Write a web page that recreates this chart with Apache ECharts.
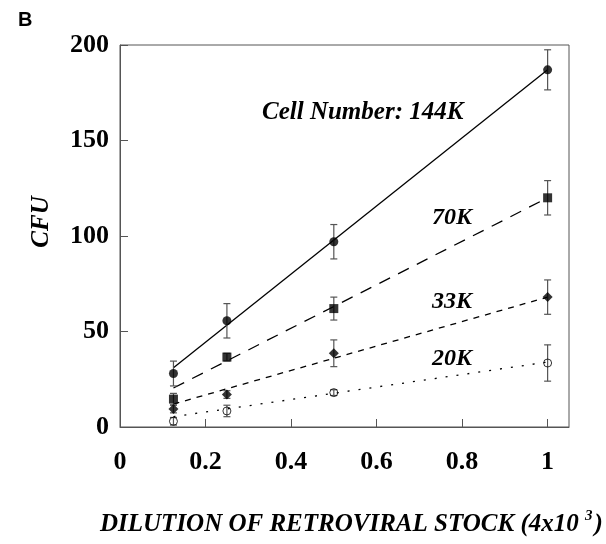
<!DOCTYPE html>
<html><head><meta charset="utf-8">
<script src="https://cdn.jsdelivr.net/npm/echarts@6/dist/echarts.min.js"></script>
<style>html,body{margin:0;padding:0;background:#fff}#c{width:606px;height:544px}</style>
</head><body><div id="c"></div>
<script>
var dilutions = [0.125, 0.25, 0.5, 1];
var cfu144K = [28, 55.6, 97, 187];
var err144K = [6.5, 9, 9, 10.5];
var cfu70K = [14.6, 36.6, 62, 120];
var err70K = [3, 2, 6, 9];
var cfu33K = [9.4, 17, 38.6, 68];
var err33K = [2, 2, 7, 9];
var cfu20K = [3, 8.4, 18, 33.5];
var err20K = [2, 3, 1.5, 9.5];
var fitX = [0.125, 1];
var fit144K = [31, 187];
var fit70K = [20.4, 120];
var fit33K = [12, 68];
var fit20K = [5.4, 34];
var xTicks = [0, 0.2, 0.4, 0.6, 0.8, 1];
var yTicks = [0, 50, 100, 150, 200];
var seriesNames = ['Cell Number: 144K', '70K', '33K', '20K'];

var serif = '"Liberation Serif", "DejaVu Serif", serif';
function pts(xs, ys){ return xs.map(function(x,i){return [x, ys[i]];}); }
function errData(ys, es){ return dilutions.map(function(x,i){return [x, ys[i]-es[i], ys[i]+es[i]];}); }
function errSeries(ys, es){
  return {type:'custom', z:5, data: errData(ys, es), silent:true,
    renderItem: function(params, api){
      var p1 = api.coord([api.value(0), api.value(1)]);
      var p2 = api.coord([api.value(0), api.value(2)]);
      var w = 3.5;
      var st = {stroke:'#555', lineWidth:1.2};
      return {type:'group', children:[
        {type:'line', shape:{x1:p1[0],y1:p1[1],x2:p2[0],y2:p2[1]}, style:st},
        {type:'line', shape:{x1:p1[0]-w,y1:p1[1],x2:p1[0]+w,y2:p1[1]}, style:st},
        {type:'line', shape:{x1:p2[0]-w,y1:p2[1],x2:p2[0]+w,y2:p2[1]}, style:st}
      ]};
    }};
}
function fitSeries(ys, type){
  return {type:'line', data: pts(fitX, ys), symbol:'none', z:3, silent:true,
    lineStyle:{color:'#000', width:1.3, type:type}};
}
function markSeries(ys, sym, size, filled){
  return {type:'scatter', data: pts(dilutions, ys), symbol:sym, symbolSize:size, z:6,
    itemStyle: filled ? {color:'#000'} : {color:'rgba(0,0,0,0)', borderColor:'#000', borderWidth:1}};
}

var chart = echarts.init(document.getElementById('c'), null, {renderer:'canvas'});
chart.setOption({
  animation:false,
  grid:{left:120, right:37, top:45, bottom:117, show:true, borderColor:'#555', borderWidth:1},
  xAxis:{type:'value', min:0, max:1.05, interval:0.2,
    axisLine:{lineStyle:{color:'#555'}},
    axisTick:{inside:true, length:8, lineStyle:{color:'#555'}},
    splitLine:{show:false},
    axisLabel:{showMaxLabel:false, margin:22, fontFamily:serif, fontWeight:'bold', fontSize:26, color:'#000',
      formatter:function(v){ for (var i=0;i<xTicks.length;i++){ if (Math.abs(v-xTicks[i])<1e-6) return String(xTicks[i]); } return ''; }}
  },
  yAxis:{type:'value', min:0, max:200, interval:50,
    axisLine:{lineStyle:{color:'#555'}},
    axisTick:{inside:true, length:8, lineStyle:{color:'#555'}},
    splitLine:{show:false},
    axisLabel:{margin:11, fontFamily:serif, fontWeight:'bold', fontSize:26, color:'#000',
      formatter:function(v){ return yTicks.indexOf(v)>=0 ? String(v) : ''; }}
  },
  graphic:[
    {type:'text', left:18, top:10, style:{text:'B', font:'bold 20px "Liberation Sans", Arial, sans-serif', fill:'#000'}},
    {type:'text', x:42, y:222, rotation:Math.PI/2, style:{text:'CFU', font:'italic bold 25px '+serif, fill:'#000', align:'center', verticalAlign:'middle'}},
    {type:'text', x:262, y:113, style:{text:seriesNames[0], font:'italic bold 25px '+serif, fill:'#000', verticalAlign:'middle'}},
    {type:'text', x:432, y:218, style:{text:seriesNames[1], font:'italic bold 24px '+serif, fill:'#000', verticalAlign:'middle'}},
    {type:'text', x:432, y:302, style:{text:seriesNames[2], font:'italic bold 24px '+serif, fill:'#000', verticalAlign:'middle'}},
    {type:'text', x:432, y:359, style:{text:seriesNames[3], font:'italic bold 24px '+serif, fill:'#000', verticalAlign:'middle'}},
    {type:'text', x:100, y:523, style:{
      text:'{m|DILUTION OF RETROVIRAL STOCK (4x10 }{s|3}{m|)}', verticalAlign:'middle',
      rich:{m:{font:'italic bold 25px '+serif, fill:'#000', verticalAlign:'bottom'},
            s:{font:'italic bold 15px '+serif, fill:'#000', verticalAlign:'top', padding:[0,2,13,0]}}}}
  ],
  series:[
    fitSeries(fit144K, 'solid'),
    fitSeries(fit70K, [12,9]),
    fitSeries(fit33K, [6,6]),
    fitSeries(fit20K, [2,9]),
    errSeries(cfu144K, err144K),
    errSeries(cfu70K, err70K),
    errSeries(cfu33K, err33K),
    errSeries(cfu20K, err20K),
    markSeries(cfu144K, 'circle', 9, true),
    markSeries(cfu70K, 'rect', 9, true),
    markSeries(cfu33K, 'diamond', 10, true),
    markSeries(cfu20K, 'circle', 8, false)
  ]
});
</script></body></html>
